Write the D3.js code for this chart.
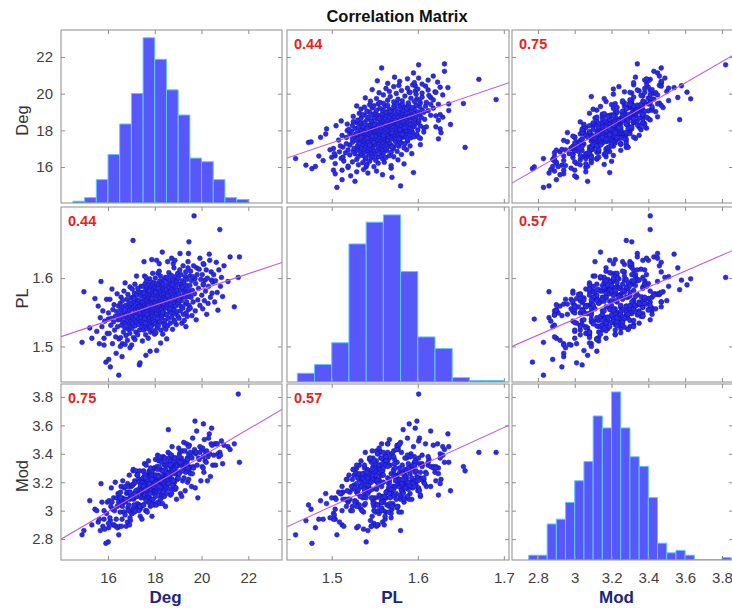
<!DOCTYPE html>
<html lang="en">
<head>
<meta charset="utf-8">
<title>Correlation Matrix</title>
<script src="https://d3js.org/d3.v7.min.js"></script>
<style>
  body { margin: 0; background: #fff; }
  svg { font-family: "Liberation Sans", Arial, Helvetica, sans-serif; }
</style>
</head>
<body>
<div id="chart"></div>
<script>

const deg = [
  14.89, 14.97,
  15.22, 15.44, 15.31,
  15.70, 15.91, 15.52, 15.58, 15.63, 15.67, 15.74, 15.78, 15.83, 15.86, 15.94, 15.97,
  16.01, 16.10, 16.35, 16.46, 16.03, 16.02, 16.05, 16.08, 16.12, 16.14, 16.17, 16.19, 16.21, 16.24, 16.26, 16.28, 16.31, 16.33, 16.37, 16.39, 16.41, 16.43, 16.45, 16.47, 16.49,
  16.51, 16.52, 16.54, 16.55, 16.56, 16.58, 16.59, 16.61, 16.62, 16.63, 16.65, 16.66, 16.68, 16.69, 16.70, 16.72, 16.73, 16.74, 16.76, 16.77, 16.78, 16.80, 16.81, 16.83, 16.84, 16.85, 16.87, 16.88, 16.89, 16.90, 16.91, 16.92, 16.93, 16.94, 16.95, 16.96, 16.97, 16.98, 16.99, 16.53,
  17.07, 17.34, 17.01, 17.37, 17.00, 17.02, 17.03, 17.04, 17.05, 17.06, 17.08, 17.09, 17.10, 17.11, 17.12, 17.13, 17.14, 17.15, 17.16, 17.17, 17.18, 17.19, 17.20, 17.21, 17.22, 17.23, 17.24, 17.25, 17.26, 17.27, 17.28, 17.29, 17.30, 17.31, 17.32, 17.33, 17.35, 17.36, 17.38, 17.39, 17.40, 17.41, 17.42, 17.43, 17.44, 17.45, 17.46, 17.47, 17.48, 17.49, 17.11, 17.19, 17.27, 17.36, 17.44,
  17.54, 17.50, 17.51, 17.51, 17.52, 17.53, 17.53, 17.54, 17.55, 17.56, 17.56, 17.57, 17.58, 17.58, 17.59, 17.60, 17.61, 17.61, 17.62, 17.63, 17.63, 17.64, 17.65, 17.66, 17.66, 17.67, 17.68, 17.68, 17.69, 17.70, 17.71, 17.71, 17.72, 17.73, 17.73, 17.74, 17.75, 17.76, 17.76, 17.77, 17.78, 17.78, 17.79, 17.80, 17.81, 17.81, 17.82, 17.83, 17.83, 17.84, 17.85, 17.86, 17.86, 17.87, 17.88, 17.88, 17.89, 17.90, 17.91, 17.91, 17.92, 17.93, 17.93, 17.94, 17.95, 17.96, 17.96, 17.97, 17.98, 17.98, 17.99, 17.52, 17.57, 17.62, 17.67, 17.72, 17.77, 17.82, 17.87, 17.92, 17.97, 17.60,
  18.32, 18.08, 18.00, 18.01, 18.02, 18.02, 18.03, 18.04, 18.05, 18.05, 18.06, 18.07, 18.08, 18.09, 18.10, 18.10, 18.11, 18.12, 18.13, 18.13, 18.14, 18.15, 18.16, 18.17, 18.17, 18.18, 18.19, 18.20, 18.21, 18.21, 18.22, 18.23, 18.24, 18.25, 18.25, 18.26, 18.27, 18.28, 18.29, 18.29, 18.30, 18.31, 18.32, 18.33, 18.34, 18.34, 18.35, 18.36, 18.37, 18.38, 18.38, 18.39, 18.40, 18.41, 18.42, 18.42, 18.43, 18.44, 18.45, 18.46, 18.46, 18.47, 18.48, 18.49, 18.04, 18.12, 18.19, 18.27, 18.36, 18.44, 18.15, 18.33,
  18.58, 18.51, 18.50, 18.51, 18.52, 18.53, 18.54, 18.55, 18.56, 18.57, 18.58, 18.59, 18.60, 18.61, 18.62, 18.63, 18.64, 18.65, 18.66, 18.67, 18.68, 18.69, 18.70, 18.71, 18.72, 18.73, 18.74, 18.75, 18.76, 18.77, 18.78, 18.79, 18.80, 18.81, 18.82, 18.83, 18.84, 18.85, 18.86, 18.87, 18.88, 18.89, 18.90, 18.91, 18.92, 18.93, 18.94, 18.95, 18.96, 18.97, 18.98, 18.99, 18.55, 18.65, 18.75, 18.85, 18.95,
  19.46, 19.00, 19.01, 19.02, 19.04, 19.05, 19.06, 19.07, 19.09, 19.10, 19.11, 19.12, 19.14, 19.15, 19.16, 19.17, 19.19, 19.20, 19.21, 19.22, 19.24, 19.25, 19.26, 19.27, 19.29, 19.30, 19.31, 19.32, 19.34, 19.35, 19.36, 19.37, 19.39, 19.40, 19.41, 19.42, 19.44, 19.45, 19.47, 19.48, 19.49, 19.03, 19.18, 19.33,
  19.68, 19.72, 19.79, 19.50, 19.52, 19.53, 19.55, 19.57, 19.59, 19.61, 19.62, 19.64, 19.66, 19.70, 19.73, 19.75, 19.77, 19.81, 19.84, 19.87, 19.90, 19.93, 19.97,
  20.08, 20.33, 20.43, 20.01, 20.03, 20.05, 20.07, 20.10, 20.12, 20.15, 20.17, 20.20, 20.22, 20.25, 20.28, 20.30, 20.35, 20.38, 20.41, 20.45, 20.48,
  20.78, 20.52, 20.56, 20.60, 20.63, 20.67, 20.70, 20.74, 20.81, 20.85, 20.90, 20.96,
  21.13, 21.22, 21.40,
  21.57, 21.62,
  17.87, 18.08, 18.19, 18.55, 18.72, 18.79, 18.86, 19.08, 19.44, 19.42, 19.93, 20.07,
  17.80, 16.73, 17.15, 15.83, 16.94, 17.62, 18.25, 16.60
];

const pl = [
  1.506, 1.580,
  1.527, 1.570, 1.512,
  1.595, 1.477, 1.522, 1.559, 1.504, 1.542, 1.529, 1.552, 1.512, 1.537, 1.569, 1.519,
  1.540, 1.470, 1.490, 1.458, 1.481, 1.549, 1.519, 1.569, 1.531, 1.541, 1.584, 1.504, 1.554, 1.536, 1.561, 1.524, 1.544, 1.514, 1.551, 1.577, 1.529, 1.539, 1.559, 1.511, 1.546,
  1.540, 1.563, 1.513, 1.554, 1.572, 1.531, 1.548, 1.504, 1.567, 1.536, 1.558, 1.521, 1.581, 1.543, 1.551, 1.527, 1.593, 1.534, 1.560, 1.516, 1.546, 1.569, 1.538, 1.509, 1.556, 1.576, 1.525, 1.549, 1.532, 1.564, 1.542, 1.553, 1.519, 1.587, 1.529, 1.545, 1.559, 1.537, 1.571, 1.500,
  1.655, 1.473, 1.502, 1.476, 1.563, 1.526, 1.555, 1.584, 1.543, 1.534, 1.572, 1.513, 1.558, 1.566, 1.548, 1.578, 1.539, 1.591, 1.530, 1.553, 1.560, 1.521, 1.569, 1.545, 1.603, 1.536, 1.576, 1.550, 1.557, 1.517, 1.564, 1.541, 1.581, 1.532, 1.554, 1.567, 1.524, 1.559, 1.547, 1.574, 1.537, 1.588, 1.542, 1.552, 1.529, 1.562, 1.579, 1.508, 1.556, 1.535, 1.570, 1.544, 1.585, 1.549, 1.565,
  1.624, 1.565, 1.538, 1.588, 1.553, 1.571, 1.524, 1.579, 1.546, 1.560, 1.603, 1.530, 1.574, 1.549, 1.592, 1.542, 1.558, 1.517, 1.583, 1.555, 1.568, 1.535, 1.596, 1.544, 1.563, 1.577, 1.526, 1.566, 1.551, 1.585, 1.540, 1.570, 1.512, 1.561, 1.581, 1.547, 1.590, 1.533, 1.572, 1.556, 1.599, 1.528, 1.564, 1.543, 1.576, 1.559, 1.521, 1.586, 1.548, 1.569, 1.537, 1.594, 1.554, 1.580, 1.531, 1.562, 1.573, 1.545, 1.607, 1.539, 1.567, 1.550, 1.584, 1.523, 1.558, 1.575, 1.536, 1.589, 1.552, 1.566, 1.518, 1.578, 1.541, 1.601, 1.547, 1.560, 1.582, 1.529, 1.570, 1.555, 1.593, 1.534,
  1.638, 1.494, 1.556, 1.586, 1.545, 1.600, 1.564, 1.533, 1.575, 1.520, 1.581, 1.553, 1.592, 1.548, 1.569, 1.527, 1.583, 1.562, 1.539, 1.607, 1.558, 1.574, 1.531, 1.578, 1.552, 1.589, 1.543, 1.567, 1.596, 1.536, 1.571, 1.560, 1.603, 1.549, 1.580, 1.524, 1.565, 1.587, 1.555, 1.542, 1.576, 1.594, 1.546, 1.568, 1.518, 1.584, 1.561, 1.591, 1.551, 1.577, 1.534, 1.598, 1.557, 1.572, 1.529, 1.582, 1.566, 1.538, 1.601, 1.547, 1.570, 1.525, 1.588, 1.559, 1.579, 1.541, 1.610, 1.553, 1.563, 1.532, 1.585, 1.550,
  1.583, 1.511, 1.583, 1.546, 1.573, 1.601, 1.556, 1.530, 1.594, 1.565, 1.578, 1.541, 1.608, 1.560, 1.587, 1.552, 1.570, 1.597, 1.534, 1.580, 1.562, 1.591, 1.549, 1.604, 1.567, 1.543, 1.576, 1.585, 1.525, 1.598, 1.558, 1.572, 1.589, 1.554, 1.615, 1.538, 1.581, 1.563, 1.593, 1.548, 1.569, 1.602, 1.559, 1.586, 1.532, 1.575, 1.596, 1.551, 1.579, 1.566, 1.607, 1.544, 1.574, 1.555, 1.590, 1.536, 1.582,
  1.653, 1.563, 1.600, 1.577, 1.541, 1.591, 1.570, 1.612, 1.552, 1.583, 1.559, 1.605, 1.567, 1.588, 1.534, 1.596, 1.574, 1.556, 1.618, 1.547, 1.580, 1.593, 1.538, 1.585, 1.572, 1.602, 1.562, 1.609, 1.549, 1.579, 1.565, 1.598, 1.544, 1.589, 1.573, 1.615, 1.554, 1.582, 1.560, 1.576, 1.603, 1.568, 1.587, 1.529,
  1.691, 1.599, 1.615, 1.589, 1.556, 1.610, 1.572, 1.596, 1.545, 1.582, 1.602, 1.565, 1.618, 1.577, 1.552, 1.592, 1.539, 1.605, 1.568, 1.585, 1.613, 1.560, 1.598,
  1.590, 1.635, 1.597, 1.575, 1.605, 1.555, 1.591, 1.620, 1.567, 1.597, 1.581, 1.612, 1.547, 1.600, 1.563, 1.588, 1.626, 1.572, 1.609, 1.578, 1.594,
  1.671, 1.605, 1.565, 1.596, 1.623, 1.579, 1.553, 1.612, 1.588, 1.601, 1.573, 1.618,
  1.595, 1.631, 1.558,
  1.601, 1.631,
  1.627, 1.626, 1.621, 1.624, 1.629, 1.621, 1.626, 1.636, 1.636, 1.624, 1.629, 1.621,
  1.493, 1.503, 1.510, 1.502, 1.498, 1.487, 1.505, 1.485
];

const mod = [
  2.83, 2.86,
  3.07, 3.01, 2.90,
  3.19, 2.77, 3.00, 2.92, 2.94, 2.86, 3.06, 2.89, 3.00, 2.87, 2.98, 3.06,
  2.78, 2.93, 2.94, 2.83, 2.88, 2.91, 3.07, 2.95, 3.03, 3.16, 3.06, 3.01, 2.90, 3.09, 2.90, 3.00, 3.20, 2.89, 3.09, 3.03, 2.88, 3.12, 3.06, 3.12, 2.89,
  3.09, 2.99, 3.13, 3.04, 3.17, 2.89, 3.07, 3.09, 3.03, 3.21, 3.06, 3.08, 2.99, 3.16, 2.99, 3.06, 3.08, 3.17, 3.07, 3.08, 2.89, 3.12, 3.13, 2.92, 3.19, 3.02, 3.17, 3.00, 3.04, 3.13, 3.25, 2.90, 3.08, 3.09, 3.13, 2.93, 3.10, 2.99, 3.17, 3.09,
  3.28, 3.04, 2.98, 3.01, 3.09, 3.18, 2.98, 3.18, 3.18, 3.01, 3.29, 3.08, 3.02, 3.19, 3.09, 2.99, 3.21, 3.12, 3.12, 3.20, 3.00, 3.13, 3.11, 3.28, 3.10, 3.10, 3.25, 3.05, 3.25, 3.03, 3.04, 3.14, 3.15, 3.22, 3.00, 3.20, 3.03, 3.28, 2.96, 3.17, 3.18, 3.09, 3.12, 3.22, 3.03, 2.94, 3.21, 3.13, 3.10, 3.20, 3.04, 3.14, 3.25, 3.03, 3.14,
  3.11, 3.23, 3.04, 3.18, 3.28, 3.04, 3.15, 3.27, 3.09, 3.33, 3.11, 3.14, 3.11, 3.24, 3.20, 3.18, 3.00, 3.22, 3.16, 3.22, 3.32, 3.00, 3.21, 3.23, 3.09, 3.22, 3.25, 2.99, 3.21, 3.16, 3.24, 3.12, 3.17, 3.35, 3.09, 3.15, 3.08, 3.17, 3.28, 3.09, 3.24, 3.27, 3.13, 3.21, 3.03, 3.28, 3.08, 3.24, 3.05, 3.26, 3.26, 3.16, 3.26, 3.08, 3.15, 2.96, 3.25, 3.28, 3.20, 3.05, 3.22, 3.25, 3.08, 3.17, 3.17, 3.12, 3.22, 3.19, 3.30, 3.04, 3.14, 3.17, 3.25, 3.15, 3.22, 3.06, 3.19, 3.30, 3.04, 3.21, 3.17, 3.23,
  3.14, 3.05, 3.30, 3.21, 3.25, 3.14, 3.36, 3.10, 3.24, 3.25, 3.14, 3.04, 3.30, 3.31, 3.15, 3.16, 3.13, 3.39, 3.21, 3.22, 3.06, 3.30, 3.25, 3.21, 3.35, 3.15, 3.21, 3.13, 3.38, 3.23, 3.05, 3.20, 3.23, 3.29, 3.10, 3.22, 3.35, 3.23, 3.11, 3.23, 3.34, 3.19, 3.20, 3.05, 3.22, 3.28, 3.10, 3.38, 3.25, 3.19, 3.17, 3.18, 3.37, 3.10, 3.19, 3.32, 3.16, 3.15, 3.37, 3.25, 3.03, 3.29, 3.17, 3.25, 3.20, 3.29, 3.17, 3.21, 3.13, 3.32, 3.24, 3.28,
  3.57, 3.12, 3.21, 3.34, 3.25, 3.16, 3.32, 3.23, 3.19, 3.41, 3.22, 3.27, 3.19, 3.25, 3.37, 3.15, 3.40, 3.27, 3.25, 3.11, 3.35, 3.31, 3.30, 3.22, 3.12, 3.26, 3.45, 3.22, 3.29, 3.28, 3.37, 3.15, 3.33, 3.19, 3.17, 3.30, 3.20, 3.37, 3.29, 3.37, 3.15, 3.33, 3.32, 3.16, 3.26, 3.08, 3.31, 3.33, 3.22, 3.32, 3.23, 3.36, 3.24, 3.32, 3.18, 3.26, 3.27,
  3.31, 3.35, 3.23, 3.44, 3.27, 3.26, 3.40, 3.32, 3.42, 3.12, 3.33, 3.33, 3.37, 3.10, 3.35, 3.34, 3.21, 3.42, 3.31, 3.29, 3.48, 3.23, 3.32, 3.29, 3.42, 3.14, 3.32, 3.27, 3.35, 3.30, 3.47, 3.34, 3.37, 3.20, 3.36, 3.31, 3.40, 3.22, 3.30, 3.46, 3.27, 3.38, 3.28, 3.32,
  3.41, 3.63, 3.56, 3.30, 3.41, 3.26, 3.38, 3.17, 3.37, 3.26, 3.51, 3.31, 3.30, 3.43, 3.16, 3.40, 3.41, 3.32, 3.09, 3.37, 3.36, 3.41, 3.21,
  3.61, 3.54, 3.58, 3.43, 3.31, 3.44, 3.38, 3.27, 3.50, 3.35, 3.41, 3.34, 3.42, 3.21, 3.38, 3.51, 3.40, 3.24, 3.47, 3.46, 3.32,
  3.41, 3.39, 3.47, 3.32, 3.47, 3.47, 3.40, 3.38, 3.39, 3.49, 3.33, 3.46,
  3.45, 3.43, 3.47,
  3.82, 3.34,
  3.22, 3.19, 3.31, 3.26, 3.39, 3.21, 3.37, 3.34, 3.45, 3.30, 3.45, 3.30,
  3.12, 2.97, 3.12, 2.94, 2.95, 3.07, 3.08, 2.94
];

// histogram bins on the diagonal (edges and counts)
const degEdges = [14.5, 15, 15.5, 16, 16.5, 17, 17.5, 18, 18.5, 19, 19.5, 20, 20.5, 21, 21.5, 22];
const degCounts = [1, 3, 13, 27, 44, 61, 92, 80, 63, 49, 25, 23, 13, 3, 2];
const plEdges = [1.46, 1.48, 1.50, 1.52, 1.54, 1.56, 1.58, 1.60, 1.62, 1.64, 1.66, 1.68, 1.70];
const plCounts = [6, 12, 27, 95, 110, 115, 76, 31, 23, 3, 1, 1];
const modEdges = [2.75, 2.80, 2.85, 2.90, 2.95, 3.00, 3.05, 3.10, 3.15, 3.20, 3.25, 3.30, 3.35, 3.40, 3.45, 3.50, 3.55, 3.60, 3.65, 3.70, 3.75, 3.80, 3.85];
const modCounts = [2, 2, 15, 17, 24, 33, 41, 60, 55, 70, 55, 43, 39, 26, 7, 3, 4, 2, 0, 0, 0, 1];

// axis limits and ticks
const degLimX = [13.99, 23.44], degLimY = [14.04, 23.47];
const plLimX = [1.448, 1.706], plLimY = [1.448, 1.704];
const modLimX = [2.659, 3.860], modLimY = [2.653, 3.891];
const degTicks = [16, 18, 20, 22];
const plTicksX = [1.5, 1.6, 1.7];
const plTicksY = [1.5, 1.6];
const modTicks = [2.8, 3, 3.2, 3.4, 3.6, 3.8];

// correlation coefficients and least-squares lines (row variable on column variable)
const corrText = [[null, "0.44", "0.75"], ["0.44", null, "0.57"], ["0.75", "0.57", null]];
const fitIntercepts = [[null, -6.53, -0.30], [1.3538, null, 1.189], [1.448, -1.124, null]];
const fitSlopes = [[null, 15.9, 5.8], [0.01148, null, 0.117], [0.0966, 2.77, null]];

// panel placement
const panelCols = [[61, 282], [287, 509], [512, 733]];
const panelRows = [[30, 203], [207, 382], [384, 560]];

const variables = [
  {name: "Deg", values: deg, limX: degLimX, limY: degLimY, ticksX: degTicks, ticksY: degTicks, edges: degEdges, counts: degCounts},
  {name: "PL", values: pl, limX: plLimX, limY: plLimY, ticksX: plTicksX, ticksY: plTicksY, edges: plEdges, counts: plCounts},
  {name: "Mod", values: mod, limX: modLimX, limY: modLimY, ticksX: modTicks, ticksY: modTicks, edges: modEdges, counts: modCounts}
];
const n = d3.min(variables, v => v.values.length);

const boxColor = "#8d8d8d";
const labelColor = "#3f3f3f";

const svg = d3.select("#chart").append("svg")
    .attr("width", 732)
    .attr("height", 608);

svg.append("text")
    .attr("x", 397)
    .attr("y", 22)
    .attr("text-anchor", "middle")
    .attr("font-size", 16.5)
    .attr("font-weight", "bold")
    .attr("fill", "#111")
    .text("Correlation Matrix");

variables.forEach((rowVar, i) => {
  variables.forEach((colVar, j) => {
    const [x0, x1] = panelCols[j];
    const [y0, y1] = panelRows[i];
    const x = d3.scaleLinear().domain(colVar.limX).range([x0, x1]);
    const y = d3.scaleLinear().domain(rowVar.limY).range([y1, y0]);

    const cell = svg.append("g");
    const clipId = "clip" + i + j;
    cell.append("clipPath").attr("id", clipId)
      .append("rect")
        .attr("x", x0).attr("y", y0)
        .attr("width", x1 - x0).attr("height", y1 - y0);
    const plot = cell.append("g").attr("clip-path", `url(#${clipId})`);

    if (i === j) {
      // histogram, tallest bar just under the top edge
      const h = d3.scaleLinear()
          .domain([0, d3.max(colVar.counts) / 0.955])
          .range([y1, y0]);
      plot.selectAll("path")
        .data(colVar.counts)
        .join("path")
          .attr("d", (c, k) => `M${x(colVar.edges[k])},${y1}V${h(c)}H${x(colVar.edges[k + 1])}V${y1}Z`)
          .attr("fill", "#5757fa")
          .attr("stroke", "#5ec8f6")
          .attr("stroke-width", 1);
    } else {
      const pts = d3.range(n).map(k => [colVar.values[k], rowVar.values[k]]);
      plot.selectAll("circle")
        .data(pts)
        .join("circle")
          .attr("cx", d => x(d[0]))
          .attr("cy", d => y(d[1]))
          .attr("r", 2.4)
          .attr("fill", "#2b2be8")
          .attr("stroke", "#1212a6")
          .attr("stroke-width", 0.5);

      const a = fitIntercepts[i][j], b = fitSlopes[i][j];
      plot.append("line")
          .attr("x1", x(colVar.limX[0]))
          .attr("y1", y(a + b * colVar.limX[0]))
          .attr("x2", x(colVar.limX[1]))
          .attr("y2", y(a + b * colVar.limX[1]))
          .attr("stroke", "#c75ad9")
          .attr("stroke-width", 1.1);

      cell.append("text")
          .attr("x", x0 + 7)
          .attr("y", y0 + 19)
          .attr("font-size", 14.5)
          .attr("font-weight", "bold")
          .attr("fill", "#e5231d")
          .text(corrText[i][j]);
    }

    // box with inward ticks on every side
    cell.append("rect")
        .attr("x", x0).attr("y", y0)
        .attr("width", x1 - x0).attr("height", y1 - y0)
        .attr("fill", "none")
        .attr("stroke", boxColor);

    const styleAxis = g => {
      g.attr("color", boxColor);
      g.select(".domain").remove();
      g.selectAll("text").attr("fill", labelColor).attr("font-size", 15).attr("font-family", null);
    };
    const noLabel = () => "";

    cell.append("g")
        .attr("transform", `translate(0,${y1})`)
        .call(d3.axisBottom(x).tickValues(colVar.ticksX).tickSize(-4).tickPadding(12)
              .tickFormat(i === 2 ? (d => d) : noLabel))
        .call(styleAxis);
    cell.append("g")
        .attr("transform", `translate(0,${y0})`)
        .call(d3.axisTop(x).tickValues(colVar.ticksX).tickSize(-4).tickFormat(noLabel))
        .call(styleAxis);
    cell.append("g")
        .attr("transform", `translate(${x0},0)`)
        .call(d3.axisLeft(y).tickValues(rowVar.ticksY).tickSize(-4).tickPadding(8)
              .tickFormat(j === 0 ? (d => d) : noLabel))
        .call(styleAxis);
    cell.append("g")
        .attr("transform", `translate(${x1},0)`)
        .call(d3.axisRight(y).tickValues(rowVar.ticksY).tickSize(-4).tickFormat(noLabel))
        .call(styleAxis);
  });
});

// variable names: left side and bottom
variables.forEach((v, k) => {
  const [y0, y1] = panelRows[k];
  svg.append("text")
      .attr("transform", `translate(28,${(y0 + y1) / 2 + 4}) rotate(-90)`)
      .attr("text-anchor", "middle")
      .attr("font-size", 16.5)
      .attr("fill", "#333")
      .text(v.name);

  const [x0, x1] = panelCols[k];
  svg.append("text")
      .attr("x", (x0 + x1) / 2 - 6)
      .attr("y", 603)
      .attr("text-anchor", "middle")
      .attr("font-size", 17)
      .attr("font-weight", "bold")
      .attr("fill", "#1c2680")
      .text(v.name);
});

</script>
</body>
</html>
